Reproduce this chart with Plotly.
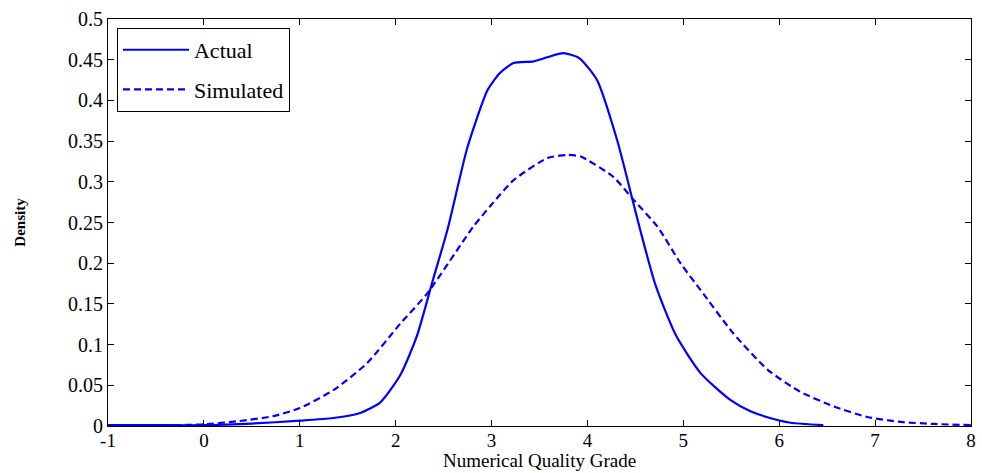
import plotly.graph_objects as go

actual_x = [-1, -0.5, 0, 0.5, 1.0, 1.35, 1.63, 1.84, 2.05, 2.22, 2.39, 2.54, 2.75, 2.96, 3.09, 3.23,
            3.44, 3.58, 3.75, 3.9, 3.96, 4.1, 4.31, 4.47, 4.55, 4.71, 4.92, 5.18, 5.49, 5.70, 5.98, 6.12, 6.46]
actual_y = [0.001, 0.001, 0.001, 0.003, 0.0065, 0.0098, 0.016, 0.029, 0.063, 0.11, 0.18, 0.241, 0.343, 0.413,
            0.434, 0.446, 0.448, 0.453, 0.458, 0.453, 0.447, 0.425, 0.351, 0.278, 0.241, 0.173, 0.112, 0.065,
            0.032, 0.018, 0.0074, 0.004, 0.001]

sim_x = [-1, -0.5, 0, 0.36, 0.72, 1.0, 1.35, 1.70, 2.05, 2.33, 2.81, 3.0, 3.23, 3.58, 3.79, 3.93, 4.27,
         4.48, 4.73, 4.97, 5.18, 5.52, 5.88, 6.22, 6.57, 6.92, 7.27, 7.62, 8.0]
sim_y = [0.0003, 0.0008, 0.002, 0.006, 0.012, 0.022, 0.044, 0.077, 0.126, 0.163, 0.245, 0.272, 0.302,
         0.329, 0.333, 0.331, 0.306, 0.278, 0.245, 0.20, 0.167, 0.114, 0.069, 0.042, 0.024, 0.011, 0.005,
         0.0025, 0.001]

x_ticks = [-1, 0, 1, 2, 3, 4, 5, 6, 7, 8]
x_tick_labels = ["-1", "0", "1", "2", "3", "4", "5", "6", "7", "8"]
y_ticks = [0, 0.05, 0.1, 0.15, 0.2, 0.25, 0.3, 0.35, 0.4, 0.45, 0.5]
y_tick_labels = ["0", "0.05", "0.1", "0.15", "0.2", "0.25", "0.3", "0.35", "0.4", "0.45", "0.5"]
x_title = "Numerical Quality Grade"

FONT = "Liberation Serif"

fig = go.Figure()
fig.add_trace(go.Scatter(x=actual_x, y=actual_y, mode="lines", name="Actual", legendgroup="a",
                         line=dict(color="#0000FF", width=2.2, shape="spline", smoothing=0.6)))
fig.add_trace(go.Scatter(x=sim_x, y=sim_y, mode="lines", name="Simulated", legendgroup="b",
                         line=dict(color="#0000FF", width=2.2, dash="7px,4px", shape="spline", smoothing=0.6)))

axis_common = dict(showline=True, linecolor="black", linewidth=1.2, mirror="ticks",
                   ticks="inside", ticklen=6, tickcolor="black", showgrid=False, zeroline=False,
                   automargin=False)

fig.update_layout(
    width=982, height=473,
    margin=dict(l=108, r=11, t=19, b=47),
    paper_bgcolor="white", plot_bgcolor="white",
    showlegend=True,
    legend=dict(x=0.0104, y=0.978, xanchor="left", yanchor="top",
                bgcolor="white", bordercolor="black", borderwidth=1,
                font=dict(family=FONT, size=22, color="black"),
                tracegroupgap=8, itemwidth=66),
    xaxis=dict(range=[-1, 8], tickvals=x_ticks, ticktext=x_tick_labels, ticklabelstandoff=-3,
               tickfont=dict(family=FONT, size=19, color="black"), **axis_common),
    yaxis=dict(range=[0, 0.5], tickvals=y_ticks, ticktext=y_tick_labels,
               tickfont=dict(family=FONT, size=20, color="black"),
               title=dict(text="<b>Density</b>", font=dict(family=FONT, size=15, color="black"),
                          standoff=38),
               **axis_common),
    annotations=[dict(text=x_title, xref="paper", yref="paper", x=0.5, y=-0.115,
                      xanchor="center", yanchor="bottom", showarrow=False,
                      font=dict(family=FONT, size=19, color="black"))],
)

fig.write_html("out.html")
